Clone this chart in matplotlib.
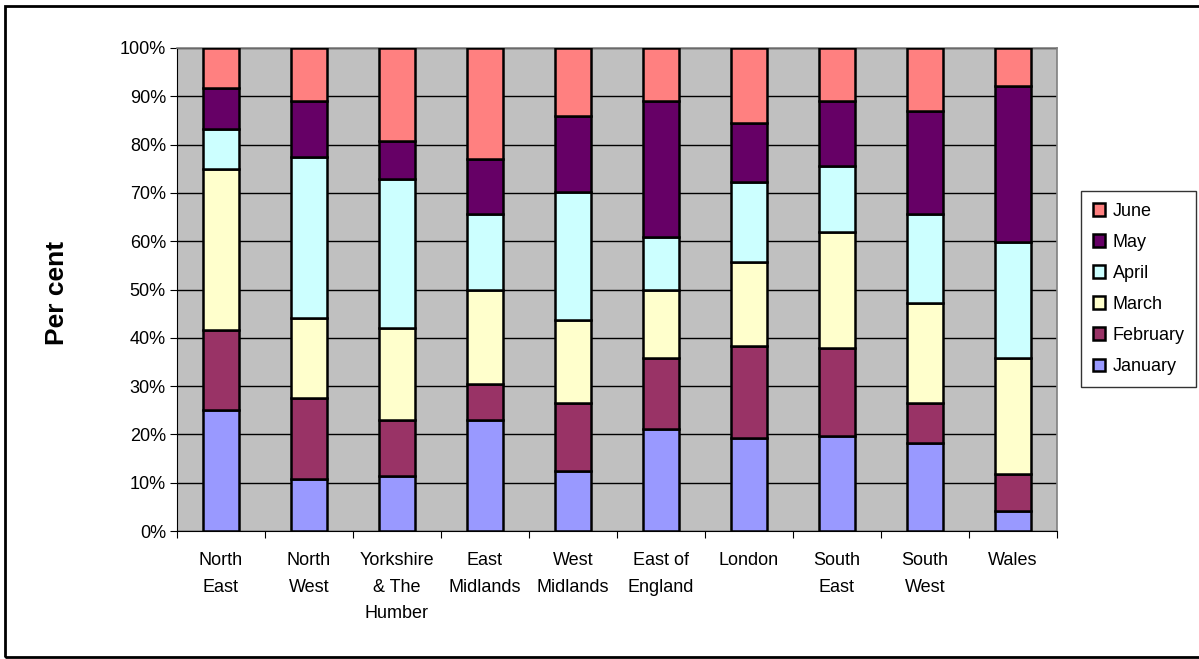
import matplotlib.pyplot as plt
import numpy as np
from matplotlib.patches import Rectangle

plt.rcParams['font.family'] = ['Liberation Sans', 'DejaVu Sans']

regions = ["North\nEast", "North\nWest", "Yorkshire\n& The\nHumber", "East\nMidlands",
           "West\nMidlands", "East of\nEngland", "London", "South\nEast", "South\nWest", "Wales"]
months = ["January", "February", "March", "April", "May", "June"]

# per cent of each region's total falling in each month
january  = [25.0, 10.8, 11.4, 22.9, 12.4, 21.2, 19.2, 19.7, 18.2, 4.1]
february = [16.6, 16.8, 11.5, 7.6, 14.1, 14.7, 19.2, 18.2, 8.3, 7.8]
march    = [33.4, 16.6, 19.2, 19.4, 17.2, 14.0, 17.3, 24.0, 20.8, 24.0]
april    = [8.3, 33.3, 30.7, 15.7, 26.5, 11.0, 16.6, 13.6, 18.3, 23.9]
may      = [8.4, 11.6, 8.0, 11.5, 15.8, 28.1, 12.1, 13.6, 21.4, 32.4]
june     = [8.3, 10.9, 19.2, 22.9, 14.0, 11.0, 15.6, 10.9, 13.0, 7.8]

colours = ["#9999FF", "#993366", "#FFFFCC", "#CCFFFF", "#660066", "#FF8080"]

fig = plt.figure(figsize=(11.99, 6.59), dpi=100)
ax = fig.add_axes([177/1199, 1 - 531/659, 880/1199, 483/659])
ax.set_facecolor("#C0C0C0")

x = np.arange(len(regions))
bottom = np.zeros(len(regions))
bars = []
for vals, name, col in zip([january, february, march, april, may, june], months, colours):
    vals = np.array(vals)
    b = ax.bar(x, vals, 0.42, bottom=bottom, color=col, edgecolor="black",
               linewidth=1.8, label=name, zorder=3)
    bars.append(b)
    bottom += vals

ax.set_xlim(-0.5, len(regions) - 0.5)
ax.set_ylim(0, 100)
ax.set_yticks(np.arange(0, 101, 10))
ax.set_yticklabels([f"{v}%" for v in range(0, 101, 10)], fontsize=13)
ax.yaxis.grid(True, color="black", linewidth=1.0, zorder=1)
ax.set_axisbelow(True)

# category labels sit between the boundary ticks
ax.set_xticks(np.arange(-0.5, len(regions)), minor=False)
ax.set_xticklabels([])
ax.set_xticks(x, minor=True)
ax.set_xticklabels(regions, minor=True, fontsize=13, linespacing=1.75, va="top")
ax.tick_params(axis="x", which="minor", length=0, pad=15)
ax.tick_params(axis="x", which="major", length=5, direction="out", color="black")
ax.tick_params(axis="y", length=5, direction="out", color="black", pad=3)

for side in ["top", "right"]:
    ax.spines[side].set_color("#808080")
    ax.spines[side].set_linewidth(1.2)
ax.spines["left"].set_color("black")
ax.spines["bottom"].set_color("black")

fig.text(57/1199, 1 - 293/659, "Per cent", rotation=90, fontsize=19,
         fontweight="bold", ha="center", va="center")

handles = bars[::-1]
leg = fig.legend(handles, months[::-1], loc="upper left",
                 bbox_to_anchor=(1081/1199, 1 - 191/659), fontsize=13,
                 frameon=True, fancybox=False, edgecolor="black",
                 handlelength=0.7, handleheight=0.7, handletextpad=0.4,
                 labelspacing=0.78, borderpad=0.65, borderaxespad=0)
leg.get_frame().set_linewidth(1.0)

# outer chart border
fig.patches.append(Rectangle((5/1199, 1 - 657/659), 1.2, 651/659,
                             transform=fig.transFigure, fill=False,
                             edgecolor="black", linewidth=2))

fig.savefig("out.png", dpi=100)
